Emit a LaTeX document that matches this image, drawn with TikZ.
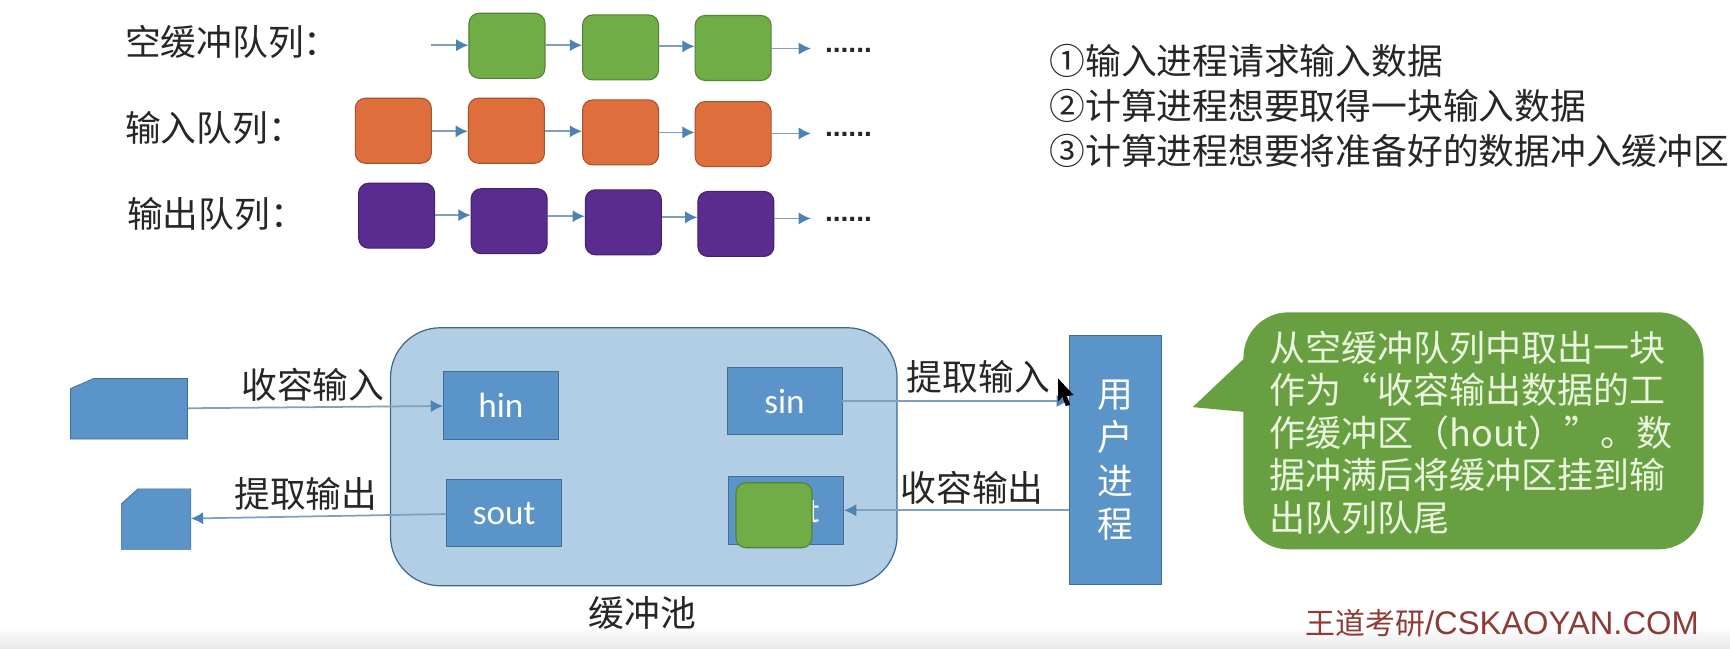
\documentclass[tikz,border=0pt]{standalone}
\usepackage{fontspec}
\setmainfont{Noto Sans CJK SC}
\newfontfamily\latinfont{Carlito}
\newfontfamily\markfont{Liberation Sans}
\usetikzlibrary{arrows.meta}
\definecolor{bufGreen}{HTML}{70AD47}
\definecolor{bufOrange}{HTML}{DE6F3C}
\definecolor{bufPurple}{HTML}{5B2C8F}
\definecolor{bufBlue}{HTML}{5A94C8}
\definecolor{poolBlue}{HTML}{B2CEE5}
\definecolor{lineBlue}{HTML}{7FA0BE}
\definecolor{tipBlue}{HTML}{4C82B4}
\definecolor{markRed}{HTML}{8E3A36}
\definecolor{noteText}{HTML}{E9F5DC}

\begin{document}
\begin{tikzpicture}[x=0.022066cm,y=-0.022066cm,font=\fontsize{20.35}{24}\selectfont,
  queuebox/.style={rounded corners=0.2cm,minimum width=1.52cm,minimum height=1.3cm,inner sep=0pt,draw=#1!75!black,fill=#1,line width=0.6pt},
  bufbox/.style={draw=tipBlue!85!black,fill=bufBlue,text=white,minimum width=2.3cm,minimum height=1.35cm,inner sep=0pt,font=\latinfont\fontsize{20}{24}\selectfont},
  cardbox/.style={inner sep=0pt,outer sep=0pt,minimum height=1.21cm},
  cardline/.style={draw=tipBlue!85!black,fill=bufBlue},
  link/.style={lineBlue,line width=1pt,-{Latex[length=7pt,width=7pt,color=tipBlue]}},
  label/.style={black!85,inner sep=0pt}]
\useasboundingbox (0,0) rectangle (1568,588);
\shade[top color=white,bottom color=black!9] (0,568) rectangle (1568,588);
\node[label,anchor=west] (emptylab) at (113,38) {空缓冲队列：};
\node[label,anchor=west] (inlab) at (113,116) {输入队列：};
\node[label,anchor=west] (outlab) at (115,194) {输出队列：};
\foreach \n/\x/\y in {e1/459.5/41.5,e2/562.5/43,e3/664.5/43.5}
  \node[queuebox=bufGreen] (\n) at (\x,\y) {};
\foreach \n/\x/\y in {i1/356.5/118.5,i2/459/118.5,i3/562.5/120,i4/664.5/121.5}
  \node[queuebox=bufOrange] (\n) at (\x,\y) {};
\foreach \n/\x/\y in {o1/359.5/195.5,o2/461.5/200.5,o3/565/201.5,o4/667/203}
  \node[queuebox=bufPurple] (\n) at (\x,\y) {};
\coordinate (e0) at (391,41);
\coordinate (eend) at (735,44);
\coordinate (iend) at (735,121);
\coordinate (oend) at (735,198);
\foreach \a/\b/\y in {e0/e1.west/41,e1.east/e2.west/41,e2.east/e3.west/42,e3.east/eend/44,
    i1.east/i2.west/119,i2.east/i3.west/119,i3.east/i4.west/120,i4.east/iend/121,
    o1.east/o2.west/195,o2.east/o3.west/196,o3.east/o4.west/197,o4.east/oend/198}
  \draw[link] (\a |- 0,\y) -- (\b |- 0,\y);
\foreach \n/\y in {edots/46,idots/122,odots/199}
  \node[label,font=\markfont\bfseries\fontsize{16}{18}\selectfont] (\n) at (769,\y) {......};
\node[label,anchor=west] (req1) at (951,55) {①输入进程请求输入数据};
\node[label,anchor=west] (req2) at (951,96) {②计算进程想要取得一块输入数据};
\node[label,anchor=west] (req3) at (951,137) {③计算进程想要将准备好的数据冲入缓冲区};
\node[draw=tipBlue!80!black,fill=poolBlue,rounded corners=1cm,minimum width=10.13cm,minimum height=5.16cm,line width=0.7pt] (pool) at (583.5,414) {};
\node[label] (poollab) at (582,556) {缓冲池};
\node[bufbox] (hin) at (454,367.5) {hin};
\node[bufbox] (sin) at (711,363.5) {sin};
\node[bufbox] (sout) at (457,465) {sout};
\node[bufbox] (hout) at (712.5,462.5) {hout};
\node[queuebox=bufGreen] (moving) at (701.5,467) {};
\node[draw=tipBlue!85!black,fill=bufBlue,text=white,minimum width=1.85cm,minimum height=4.98cm,inner sep=0pt,align=center,font=\fontsize{20.35}{24.8}\selectfont] (user) at (1011,417) {用\\户\\进\\程};
\node[cardbox,minimum width=2.34cm] (card1) at (117,370.5) {};
\node[cardbox,minimum width=1.39cm] (card2) at (141.5,470.5) {};
\draw[cardline] (card1.south west) -- (card1.south east) -- (card1.north east) -- ([xshift=0.46cm]card1.north west) -- ([yshift=-0.2cm]card1.north west) -- cycle;
\draw[cardline] (card2.south west) -- (card2.south east) -- (card2.north east) -- ([xshift=0.33cm]card2.north west) -- ([yshift=-0.3cm]card2.north west) -- cycle;
\draw[link] (card1) -- node[label,pos=0.49,above=3pt] (takein) {收容输入} (hin);
\draw[link] (sout) -- node[label,pos=0.55,above=3pt] (fetchout) {提取输出} (card2);
\draw[link] (sin.east) -- node[label,pos=0.6,above=4pt] (fetchin) {提取输入} (sin.east -| user.west);
\draw[link] (user.west |- hout) -- node[label,pos=0.43,above=3pt] (takeout) {收容输出} (hout);
\fill[black] (959,343) -- (973,358) -- (967,359) -- (970,367) -- (966,368) -- (963,360) -- (959,364) -- cycle;
\coordinate (tailtop) at (1135,318);
\coordinate (tailtip) at (1081,369);
\coordinate (tailbot) at (1135,374);
\fill[bufGreen!92!black] (tailtop) -- (tailtip) -- (tailbot) -- cycle;
\node[fill=bufGreen!92!black,rounded corners=0.9cm,minimum width=9.2cm,minimum height=4.74cm] (note) at (1335.5,390.5) {};
\node[anchor=west,text=noteText,inner sep=0pt,align=left,font=\fontsize{20.5}{24.2}\selectfont] (notetext) at (1150,392) {从空缓冲队列中取出一块\\作为“收容输出数据的工\\作缓冲区（hout）”。数\\据冲满后将缓冲区挂到输\\出队列队尾};
\node[anchor=west,text=markRed,inner sep=0pt,font=\fontsize{17}{20}\selectfont] (mark) at (1183,565) {王道考研{\markfont\fontsize{18.6}{20}\selectfont /CSKAOYAN.COM}};
\end{tikzpicture}
\end{document}
